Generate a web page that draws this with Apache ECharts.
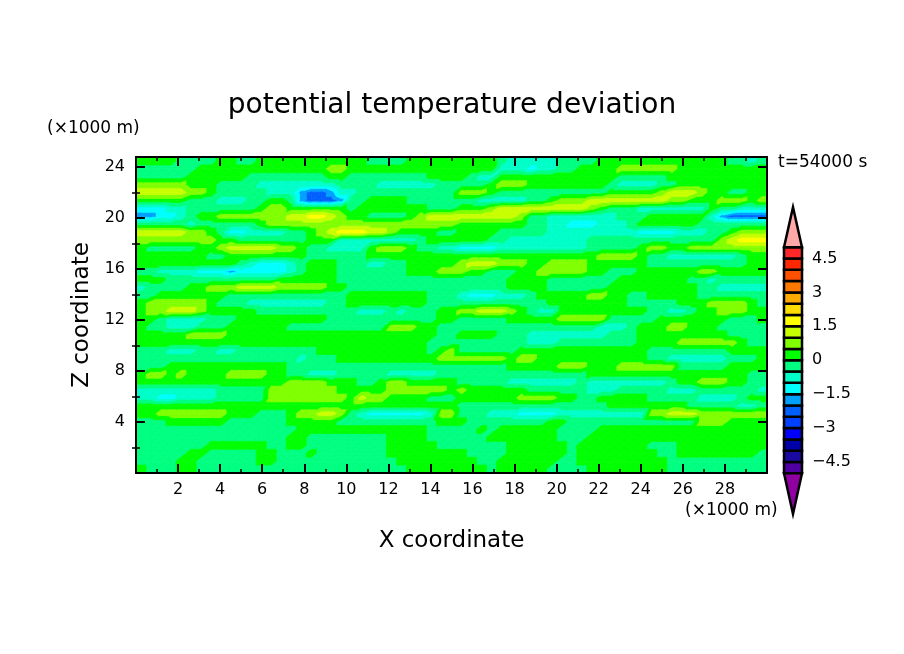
<!DOCTYPE html>
<html>
<head>
<meta charset="utf-8">
<title>potential temperature deviation</title>
<script src="https://cdn.jsdelivr.net/npm/echarts@6/dist/echarts.min.js"></script>
<style>
body { margin: 0; background: #fff; }
#main { width: 904px; height: 654px; }
</style>
</head>
<body>
<div id="main"></div>
<script>
var titleText = 'potential temperature deviation';
var timeText = 't=54000 s';
var unitText = '(×1000 m)';

// contour levels and the colour of each band between them
var levels = [-5, -4.5, -4, -3.5, -3, -2.5, -2, -1.5, -1, -0.5, 0, 0.5, 1, 1.5, 2, 2.5, 3, 3.5, 4, 4.5, 5];
var bandColors = ['#5000a0', '#1a0aa0', '#0000a8', '#0000ff', '#0040ff', '#0060ff', '#00a0ff', '#00ffff', '#00ffc8', '#00ff80',
	'#00ff00', '#80ff00', '#c8ff00', '#ffff00', '#ffdc00', '#ffaa00', '#ff7800', '#ff5000', '#ff2800', '#ff2828'];
var barLabels = [-4.5, -3, -1.5, 0, 1.5, 3, 4.5];
var overTip = [5, 6.77];
var underTip = [-5, -6.8];
var xRange = [0, 30];
var zRange = [0, 24.8];
var zMinorTicks = [2, 6, 10, 14, 18, 22];

var bandCodes = { b: -2.25, s: -1.75, c: -1.25, t: -0.75, m: -0.25, g: 0.25, l: 0.75, y: 1.25, Y: 1.75 };

// field, top row first.
// each token is a band code and the last column (0-62) it reaches
var fieldRows = [
	'g3 m7 g9 m11 g22 m26 g35 m36 t41 m45 g58 m60 t61 m62',
	'm5 g18 l20 g35 t38 c39 t41 m43 g47 l53 g62',
	'm4 g10 m18 g20 m28 g32 m33 t35 g47 m52 g62',
	'l4 g7 m11 t19 m23 t29 m34 g35 l38 g46 m47 t51 m53 g62',
	'y4 l6 g7 m12 t15 s16 b18 s19 t21 m31 l34 g35 m46 g51 l52 y55 l56 g58 m60 g62',
	'g4 m7 t10 m12 g14 m15 s16 b19 s20 m22 g26 m33 t38 m40 g41 l44 y52 l54 g57 l60 g61 l62',
	'c2 t4 m11 g12 l14 g20 m21 g28 m31 g34 l35 y44 l45 g46 m49 t56 g57 m59 t62',
	's1 c3 t4 m5 g7 l14 y16 Y18 y19 l20 g22 m26 g27 l28 y37 l38 m40 t47 m50 g56 t57 s58 b62',
	'm4 t5 m11 g12 l31 g38 m40 t42 c45 t48 m49 g55 m62',
	'y4 l6 g7 m8 c10 t14 m16 g17 l18 y19 Y22 y24 l25 g29 m31 g35 m40 t49 c53 t56 m58 g59 l62',
	'l7 g9 m16 g19 t27 m28 g34 m36 t44 m57 l58 y59 Y62',
	'g0 m5 g7 l8 y13 l15 g16 m18 t22 g23 l26 g27 m29 t31 c35 t44 m49 g50 l52 g54 l62',
	'g6 m8 g16 m22 g45 l49 g50 m52 t59 m60 g62',
	'g9 m10 t11 c14 t15 m16 g19 m22 t24 m26 g31 l32 y35 l38 g40 l44 g50 m60 g62',
	'm1 t5 c8 s9 c14 t15 m16 g19 m26 g29 l32 g34 m37 g39 l44 g46 m49 g55 l57 g62',
	'g2 m13 g19 m36 g40 m47 g54 m56 t57 m62',
	't0 m4 g6 l9 y13 l18 g20 m36 g40 m46 g55 m57 t62',
	'm1 g8 m20 g28 m31 t32 c35 t38 m39 g44 l46 g48 m50 g55 m62',
	'g0 l6 g7 m10 t18 m20 g28 m40 g48 m53 g56 l60 g61 m62',
	'g0 l2 y5 l6 g11 m21 t24 m25 t26 m29 g31 l33 y36 l37 g38 m39 t41 g50 m52 t54 m55 g57 l60 g62',
	'g1 m2 t6 m9 g18 m29 g31 m36 g41 l46 m51 g58 m61 g62',
	'g0 m2 t5 m8 g14 m24 l27 g29 m45 t48 m49 g52 l54 g57 m62',
	'g4 l8 g29 m31 g35 m38 t46 m49 g58 m62',
	'g28 m38 t41 m49 g53 l59 g60 m62',
	'm2 t5 m7 t9 m17 g28 m29 g30 l31 m37 g50 m58 g62',
	'm15 t16 m19 g29 l36 g37 l39 g50 m52 t58 m61 g62',
	'm2 g14 m36 g41 l44 g47 l53 m58 g62',
	'g0 l2 g3 l4 g8 l12 g14 m16 t19 m24 t29 m44 g60 m62',
	'g14 l18 g21 m23 g24 l26 g31 m36 t43 m44 t52 m53 g55 l58 g60 m62',
	't7 m12 l19 g24 l30 g31 l32 g38 m44 t47 m52 t55 m61 t62',
	't1 c3 t7 m12 l20 g21 y22 l24 g28 m31 g37 l41 g43 m45 g50 m55 t59 m60 g62',
	'g31 m46 g54 m59 t61 m62',
	'g1 l8 g11 m14 g15 l17 y19 l20 m21 t22 c28 t29 l31 m34 t37 c41 t50 l52 y55 l62',
	'm2 g8 m14 g19 m29 g32 m40 g42 m55 l58 g62',
	'm15 g28 m33 g34 m35 g41 m45 g62',
	'm14 g16 m24 g28 m34 g41 m44 g62',
	'm6 g12 m14 g16 m24 g29 m36 g42 m43 g50 m53 g62',
	'm4 g6 m11 g13 m16 g17 m24 g32 m36 g42 m43 g51 m53 g61 m62',
	'm3 g5 m11 g13 m25 g33 m35 g41 m43 g52 m62',
	'g0 m3 g5 m26 g34 m35 g40 m44 g52 m62'
];

var font = 'DejaVu Sans';
var colCount = 63;
var rowCount = fieldRows.length;

//=================================================================================
// unpack the rows, field[0] is the bottom row
var field = fieldRows.map(function(row) {
	var values = [];
	row.split(' ').forEach(function(token) {
		var value = bandCodes[token.charAt(0)];
		var last = parseInt(token.slice(1), 10);
		while (values.length <= last) values.push(value);
	});
	return values;
}).reverse();

// sample positions are the cell centres, plus the two plot edges
function samplePositions(range, count) {
	var step = (range[1] - range[0]) / count;
	var list = [range[0]];
	for (var i = 0; i < count; i++) list.push(range[0] + (i + 0.5) * step);
	list.push(range[1]);
	return list;
}
var xs = samplePositions(xRange, colCount);
var zs = samplePositions(zRange, rowCount);

function sampleAt(ix, iz) {
	var col = Math.min(Math.max(ix - 1, 0), colCount - 1);
	var row = Math.min(Math.max(iz - 1, 0), rowCount - 1);
	return field[row][col];
}

var quads = [];
for (var iz = 0; iz < zs.length - 1; iz++) {
	for (var ix = 0; ix < xs.length - 1; ix++) {
		quads.push([xs[ix], zs[iz], ix, iz]);
	}
}

// keep the part of a polygon on one side of a level, vertices are [x, z, value]
function clipAt(poly, level, keepAbove) {
	var out = [];
	for (var i = 0; i < poly.length; i++) {
		var p = poly[i];
		var q = poly[(i + 1) % poly.length];
		var pIn = keepAbove ? p[2] >= level : p[2] <= level;
		var qIn = keepAbove ? q[2] >= level : q[2] <= level;
		if (pIn) out.push(p);
		if (pIn !== qIn) {
			var t = (level - p[2]) / (q[2] - p[2]);
			out.push([p[0] + t * (q[0] - p[0]), p[1] + t * (q[1] - p[1]), level]);
		}
	}
	return out;
}

// filled contours of one quad: two triangles cut along the contour levels
function drawQuad(params, api) {
	var ix = api.value(2);
	var iz = api.value(3);
	var a = [xs[ix], zs[iz], sampleAt(ix, iz)];
	var b = [xs[ix + 1], zs[iz], sampleAt(ix + 1, iz)];
	var c = [xs[ix + 1], zs[iz + 1], sampleAt(ix + 1, iz + 1)];
	var d = [xs[ix], zs[iz + 1], sampleAt(ix, iz + 1)];
	var children = [];
	[[a, b, c], [a, c, d]].forEach(function(tri) {
		var lo = Math.min(tri[0][2], tri[1][2], tri[2][2]);
		var hi = Math.max(tri[0][2], tri[1][2], tri[2][2]);
		bandColors.forEach(function(color, i) {
			if (levels[i + 1] <= lo || levels[i] > hi) return;
			var poly = clipAt(clipAt(tri, levels[i], true), levels[i + 1], false);
			if (poly.length < 3) return;
			children.push({
				type: 'polygon',
				shape: { points: poly.map(function(p) { return api.coord([p[0], p[1]]); }) },
				style: { fill: color, stroke: color, lineWidth: 0.7 }
			});
		});
	});
	return { type: 'group', children: children };
}

// colour bar: one entry per band, then the two end triangles
var barData = bandColors.map(function(color, i) {
	return [levels[i], levels[i + 1], color];
});
barData.push([overTip[0], overTip[1], '#ffa8a8']);
barData.push([underTip[0], underTip[1], '#9000a0']);

function drawBarCell(params, api) {
	var item = barData[params.dataIndex];
	var isTip = Math.abs(item[1] - item[0]) > 1;
	var style = { fill: item[2], stroke: '#000', lineWidth: 2.5 };
	if (isTip) {
		return {
			type: 'polygon',
			shape: { points: [api.coord([0, item[0]]), api.coord([1, item[0]]), api.coord([0.5, item[1]])] },
			style: style
		};
	}
	var p = api.coord([0, item[1]]);
	var q = api.coord([1, item[0]]);
	return { type: 'rect', shape: { x: p[0], y: p[1], width: q[0] - p[0], height: q[1] - p[1] }, style: style };
}

// frame axis with inward ticks, used on all four sides of the plot
function frameAxis(extra) {
	var axis = {
		type: 'value',
		gridIndex: 0,
		z: 5,
		splitLine: { show: false },
		axisLine: { show: true, onZero: false, lineStyle: { color: '#000', width: 2 } },
		axisTick: { show: true, inside: true, length: 9, lineStyle: { color: '#000', width: 2 } },
		axisLabel: { show: false }
	};
	for (var k in extra) axis[k] = extra[k];
	return axis;
}

var xMinor = { show: true, splitNumber: 2, length: 4, lineStyle: { color: '#000', width: 1.5 } };
var zMinor = { show: true, inside: true, customValues: zMinorTicks, length: 4, lineStyle: { color: '#000', width: 1.5 } };

var myChart = echarts.init(document.getElementById('main'));
myChart.setOption({
	animation: false,
	backgroundColor: '#fff',
	title: {
		text: titleText,
		left: 447,
		top: 87,
		textAlign: 'center',
		textStyle: { color: '#000', fontFamily: font, fontWeight: 'normal', fontSize: 28 }
	},
	grid: [
		{ left: 136, top: 157, width: 631, height: 316 },
		{ left: 784, top: 206.5, width: 18, height: 307.5 }
	],
	xAxis: [
		frameAxis({
			min: xRange[0], max: xRange[1], interval: 2, position: 'bottom',
			minorTick: xMinor,
			axisLabel: { show: true, color: '#000', fontFamily: font, fontSize: 16, margin: 9, showMinLabel: false, showMaxLabel: false },
			name: 'X coordinate', nameLocation: 'middle', nameGap: 57,
			nameTextStyle: { color: '#000', fontFamily: font, fontSize: 23 }
		}),
		frameAxis({ min: xRange[0], max: xRange[1], interval: 2, position: 'top', minorTick: xMinor }),
		{ type: 'value', gridIndex: 1, min: 0, max: 1, show: false }
	],
	yAxis: [
		frameAxis({
			min: zRange[0], max: zRange[1], interval: 4, position: 'left',
			axisLabel: { show: true, color: '#000', fontFamily: font, fontSize: 16, margin: 11, showMinLabel: false, showMaxLabel: false },
			name: 'Z coordinate', nameLocation: 'middle', nameGap: 42,
			nameTextStyle: { color: '#000', fontFamily: font, fontSize: 23 }
		}),
		frameAxis({ min: zRange[0], max: zRange[1], interval: 4, position: 'right' }),
		frameAxis({ min: zRange[0], max: zRange[1], interval: 4, position: 'left', axisLine: { show: false }, axisTick: zMinor }),
		frameAxis({ min: zRange[0], max: zRange[1], interval: 4, position: 'right', axisLine: { show: false }, axisTick: zMinor }),
		{
			type: 'value', gridIndex: 1, min: -6.8, max: 6.8, position: 'right',
			splitLine: { show: false },
			axisLine: { show: false },
			axisTick: { show: false },
			axisLabel: {
				show: true,
				customValues: barLabels,
				color: '#000',
				fontFamily: font,
				fontSize: 16,
				margin: 10,
				formatter: function(v) { return String(v).replace('-', '\u2212'); }
			}
		}
	],
	graphic: [
		{ type: 'text', left: 47, top: 120, style: { text: unitText, fill: '#000', font: '17px "DejaVu Sans"' } },
		{ type: 'text', left: 685, top: 502, style: { text: unitText, fill: '#000', font: '17px "DejaVu Sans"' } },
		{ type: 'text', left: 778, top: 154, style: { text: timeText, fill: '#000', font: '17px "DejaVu Sans"' } }
	],
	series: [
		{
			type: 'custom',
			xAxisIndex: 0,
			yAxisIndex: 0,
			data: quads,
			renderItem: drawQuad,
			encode: { x: 0, y: 1 },
			clip: true,
			z: 1,
			progressive: 0,
			silent: true
		},
		{
			type: 'custom',
			xAxisIndex: 2,
			yAxisIndex: 4,
			data: barData,
			renderItem: drawBarCell,
			encode: { y: [0, 1] },
			silent: true
		}
	]
});
</script>
</body>
</html>
